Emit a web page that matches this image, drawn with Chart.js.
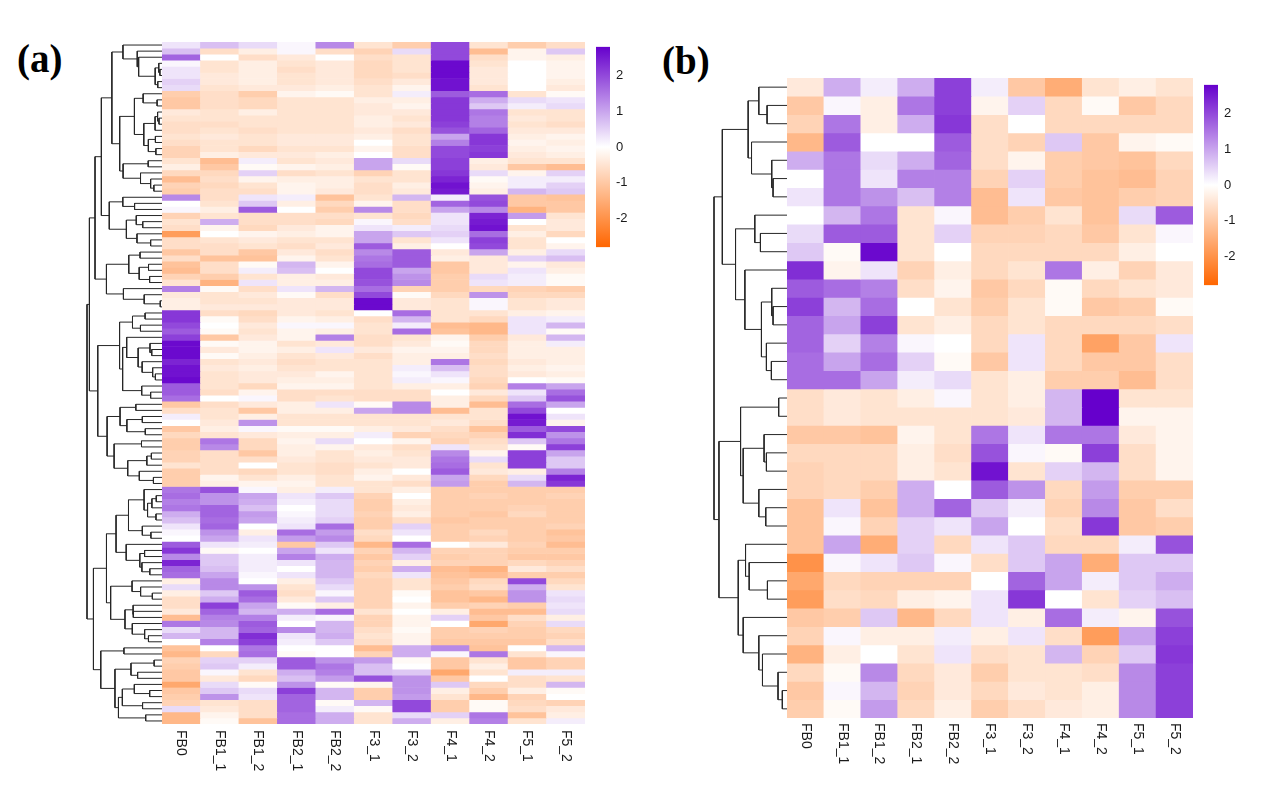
<!DOCTYPE html>
<html>
<head>
<meta charset="utf-8">
<script src="https://cdn.jsdelivr.net/npm/chart.js@4.4.1/dist/chart.umd.min.js"></script>
<style>
  body { margin: 0; background: #fff; width: 1270px; height: 810px; position: relative; overflow: hidden; }
  canvas { position: absolute; }
  .tag { position: absolute; font-family: "Liberation Serif", "Times New Roman", serif; font-weight: bold; font-size: 39px; line-height: 1; color: #000; }
</style>
</head>
<body>
<div class="tag" style="left:17px;top:39px">(a)</div>
<div class="tag" style="left:662px;top:41px">(b)</div>

<canvas id="treeA" width="79" height="686" style="left:84px;top:40px"></canvas>
<canvas id="heatA" width="423" height="752" style="left:162px;top:42px"></canvas>
<canvas id="barA" width="44" height="228" style="left:596px;top:33px"></canvas>

<canvas id="treeB" width="77" height="644" style="left:711px;top:76px"></canvas>
<canvas id="heatB" width="406" height="710" style="left:787px;top:78px"></canvas>
<canvas id="barB" width="44" height="228" style="left:1204px;top:71px"></canvas>

<script>
// column names (same for both panels)
var columns = ["FB0", "FB1_1", "FB1_2", "FB2_1", "FB2_2", "F3_1", "F3_2", "F4_1", "F4_2", "F5_1", "F5_2"];

// colour key
var colorLimit = 2.8;
var colorTicks = [-2, -1, 0, 1, 2];

/* panel (a): row z-scores, top to bottom */
var heatA = [
	[0.3, 0.7, 0.4, 0.1, 1.3, -0.5, -0.9, 2.0, -0.5, -0.9, -0.6],
	[0.7, -0.6, -0.3, 0.1, -0.6, -0.8, 0.4, 2.0, -1.2, -0.2, 0.6],
	[1.7, 0.0, -0.6, -0.4, 0.0, -0.6, -0.5, 2.0, -0.6, -0.2, -0.3],
	[0.1, -0.5, -0.3, -0.5, -0.4, -0.7, -0.5, 2.7, -0.5, 0.0, -0.2],
	[0.3, -0.5, -0.3, -0.6, -0.4, -0.7, -0.5, 2.7, -0.4, 0.0, -0.2],
	[0.3, -0.4, -0.3, -0.5, -0.4, -0.7, -0.6, 2.7, -0.4, 0.0, -0.2],
	[0.5, -0.4, -0.3, -0.5, -0.4, -0.6, -0.4, 2.6, -0.4, 0.0, -0.3],
	[0.4, -0.5, -0.4, -0.4, -0.3, -0.5, -0.2, 2.6, -0.5, 0.0, -0.4],
	[-0.9, -0.6, -0.9, -0.2, -0.1, -0.5, 0.2, 1.8, 1.6, -0.5, -0.1],
	[-1.0, -0.6, -0.7, -0.5, -0.5, -0.3, -0.3, 2.2, 0.9, 0.4, 0.3],
	[-1.0, -0.6, -0.7, -0.5, -0.5, -0.4, -0.2, 2.2, 0.6, 0.2, 0.4],
	[-0.4, -0.5, -0.3, -0.5, -0.5, -0.4, -0.4, 2.2, 1.5, -0.5, -0.5],
	[-0.5, -0.5, -0.5, -0.5, -0.5, -0.3, -0.5, 2.2, 1.4, -0.4, -0.5],
	[-0.6, -0.6, -0.5, -0.5, -0.5, -0.3, -0.4, 2.1, 1.4, -0.5, -0.6],
	[-0.6, -0.5, -0.6, -0.5, -0.5, -0.4, -0.6, 1.9, 1.7, -0.4, -0.4],
	[-0.5, -0.4, -0.5, -0.4, -0.4, -0.3, -0.5, 1.0, 2.2, -0.3, -0.2],
	[-0.6, -0.5, -0.5, -0.4, -0.4, 0.0, -0.5, 1.4, 2.2, -0.2, -0.3],
	[-0.8, -0.5, -0.7, -0.5, -0.5, -0.2, -0.6, 2.0, 2.1, -0.3, -0.2],
	[-0.8, -0.3, -0.4, -0.4, -0.3, 0.0, -0.6, 2.0, 2.2, -0.4, -0.3],
	[-0.5, -1.2, 0.2, -0.5, -0.4, 1.0, 0.4, 2.1, -0.3, -0.5, -0.5],
	[-0.3, -1.0, -0.1, -0.2, -0.3, 1.0, -0.1, 2.1, -0.4, -1.0, -1.2],
	[-0.7, -0.7, 0.5, -0.6, -0.5, -0.8, -0.5, 2.2, 0.4, -0.2, 0.5],
	[-1.2, -0.6, -0.2, -0.3, -0.3, -0.5, -0.5, 2.4, -0.1, 0.2, 0.2],
	[-0.8, -0.7, -0.5, -0.2, -0.3, -0.6, -0.3, 2.6, -0.2, 0.2, 0.5],
	[-0.9, -0.6, -0.6, -0.2, -0.4, -0.6, -0.4, 2.5, -0.3, 0.8, 0.6],
	[1.3, -0.6, 0.3, 0.2, -1.1, -0.5, 0.8, 0.2, 1.9, -1.0, -1.1],
	[0.0, -0.5, 0.6, -0.3, -0.7, -0.2, -0.6, 1.7, 2.0, -1.0, -1.0],
	[0.1, -0.3, 1.8, 0.0, -0.9, 1.3, -0.6, 1.0, 1.3, -1.4, -1.0],
	[-0.8, -0.5, -0.6, -0.6, -0.6, -0.5, -0.7, 0.3, 2.4, 1.1, -0.5],
	[-0.5, 0.9, -0.6, -0.6, -0.7, 0.1, -0.6, 0.3, 2.5, 0.0, -0.4],
	[-0.6, -0.2, -0.7, -0.4, -0.2, 0.3, 0.2, 0.4, 2.6, -0.5, -0.4],
	[-1.8, 0.0, -0.2, -0.3, -0.2, 1.0, 0.6, 0.5, 1.6, -0.3, -0.7],
	[-0.6, -0.5, -0.4, -0.5, -0.5, 1.0, -0.5, 0.3, 2.1, -0.5, 0.0],
	[-0.6, -0.6, -0.5, -0.6, -0.4, 1.8, -0.3, 0.0, 2.0, -0.5, -0.2],
	[-1.0, -0.6, -1.0, -0.4, -0.6, 1.3, 1.8, -0.4, 1.0, -0.3, 0.4],
	[-0.6, -1.1, -1.1, -0.2, -0.5, 1.5, 1.8, -0.3, -0.4, 0.5, 0.7],
	[-1.1, -0.6, -0.1, 0.8, -0.2, 1.6, 1.8, -1.0, -0.4, -0.2, -0.4],
	[-1.2, -0.6, 0.2, 0.7, 0.0, 2.0, 1.0, -1.0, -0.4, 0.3, -0.3],
	[-0.8, -0.9, -0.5, -0.3, -0.4, 2.0, 1.2, -0.9, 0.4, 0.2, -0.1],
	[-0.5, -1.4, 0.3, -0.3, -0.3, 1.9, 1.3, -0.9, 0.3, 0.2, -0.1],
	[1.4, -0.1, -0.6, 0.3, 0.8, 1.6, -0.8, -0.9, -0.7, -0.8, -0.9],
	[-0.4, -0.5, -0.4, -0.1, -0.6, 2.0, -0.1, -0.7, 1.2, -0.7, -0.7],
	[-0.3, -0.5, -0.5, -0.4, -0.4, 2.7, -0.4, -0.5, 0.1, -0.5, -0.4],
	[-0.3, -0.4, -0.4, -0.4, -0.4, 2.7, -0.4, -0.5, 0.1, -0.5, -0.4],
	[2.2, -0.6, -0.7, -0.4, -0.5, 0.0, 1.6, -0.5, -0.5, -0.3, -0.2],
	[2.2, -0.1, -0.6, -0.2, -0.3, -0.6, 0.8, -0.5, -0.7, 0.3, 0.2],
	[2.0, 0.0, -0.4, 0.1, 0.1, -0.5, 0.2, -1.2, -1.3, 0.3, 0.8],
	[1.8, -0.1, -0.5, -0.2, -0.3, -0.5, 1.6, -1.1, -1.3, 0.3, -0.1],
	[2.1, -1.0, -0.4, -0.2, 1.4, -0.6, -0.5, -0.2, -0.9, -0.4, 0.8],
	[2.7, -0.1, -0.2, -0.5, -0.4, -0.6, -0.4, -0.1, -0.7, -0.3, 0.2],
	[2.7, -0.4, -0.2, -0.3, 0.3, -0.4, -0.2, -0.2, -0.7, -0.3, -0.3],
	[2.7, -0.1, -0.3, -0.5, -0.4, -0.6, -0.3, -0.3, -0.6, -0.3, -0.3],
	[2.4, -0.5, -0.4, -0.6, -0.5, -0.5, -0.3, 1.5, -0.7, -0.4, -0.3],
	[2.6, -0.4, -0.3, -0.5, -0.5, -0.5, 0.2, 0.7, -0.6, -0.3, -0.2],
	[2.6, -0.5, -0.4, -0.4, -0.2, -0.5, 0.1, 0.3, -0.6, -0.4, -0.3],
	[2.7, -0.5, -0.4, -0.3, -0.3, -0.5, 0.2, 0.1, -0.7, 0.0, -0.1],
	[1.8, -0.5, -0.7, -0.2, -0.2, -0.5, -0.3, -0.3, -0.8, 1.4, 1.0],
	[1.8, -0.6, -0.2, -0.6, -0.6, -0.6, -0.6, 0.0, -0.4, 0.3, 1.6],
	[1.6, 0.0, 0.1, -0.6, -0.5, -0.6, -0.6, -0.3, -0.7, 0.6, 1.9],
	[-1.0, -0.6, -0.4, -0.3, 0.3, -0.1, 1.3, -0.3, -1.2, 1.6, 1.0],
	[-0.6, -0.5, -1.0, -0.3, -0.3, 1.0, 1.3, -1.2, -0.5, 2.0, 0.0],
	[0.2, -0.5, -0.3, -0.5, -0.5, -0.5, -0.5, -0.5, -0.5, 2.6, 0.3],
	[0.0, -0.4, 1.2, -0.5, -0.5, -0.5, -0.5, -0.4, -0.6, 2.5, -0.2],
	[-1.0, -0.3, 0.1, -0.1, -0.1, -0.3, -0.4, -0.6, -1.1, 1.8, 2.0],
	[-0.7, -0.5, -0.4, -0.3, -0.3, 0.2, -0.8, -0.7, -0.8, 2.3, 1.2],
	[-0.9, 1.5, -0.7, -0.2, 0.4, 0.0, -0.2, -0.8, -0.6, 0.6, 1.5],
	[-0.9, 1.3, -0.7, -0.3, -0.2, -0.4, -0.6, 0.3, -0.5, -0.1, 2.1],
	[-0.8, -0.6, -1.0, -0.3, -0.5, -0.3, -0.5, 1.3, -0.2, 2.1, 1.0],
	[-0.8, -0.6, -0.6, -0.4, -0.5, -0.4, -0.4, 1.5, 0.4, 2.1, 0.6],
	[-0.5, -0.6, 0.0, -0.5, -0.6, -0.5, -0.4, 1.6, -0.5, 2.1, 0.6],
	[-0.9, -0.6, -0.7, -0.5, -0.6, -0.3, 0.0, 1.8, -0.4, -0.3, 1.4],
	[-0.9, -0.2, -0.5, -0.3, -0.5, -0.2, -0.4, 1.0, -0.7, 0.4, 2.4],
	[-0.9, -0.3, -0.2, -0.2, -0.5, -0.5, -0.6, 1.1, -0.9, 0.8, 2.2],
	[1.5, 1.9, 0.1, -0.3, 0.2, -0.5, -0.3, -0.9, -0.9, -0.9, -0.9],
	[1.6, 1.2, 1.0, 0.3, 0.6, -0.8, 0.0, -0.9, -0.8, -0.9, -0.8],
	[1.4, 1.2, 0.9, 0.2, 0.4, -0.9, -0.3, -0.9, -0.9, -0.9, -0.9],
	[1.5, 1.7, 0.7, 0.0, 0.4, -0.9, -0.4, -0.9, -0.9, -0.8, -0.9],
	[0.9, 1.7, 1.1, 0.1, 0.4, -0.8, -0.3, -0.9, -1.0, -0.7, -0.9],
	[0.7, 1.6, 1.0, 0.2, 0.5, -0.9, -0.6, -1.0, -0.9, -0.9, -0.9],
	[0.3, 1.7, 0.0, 0.3, 1.6, -0.9, 0.5, -0.9, -0.9, -0.9, -0.8],
	[0.1, 1.2, -0.3, 1.6, 1.1, -0.6, 0.3, -0.9, -0.7, -0.9, -1.1],
	[0.0, 1.0, 0.3, 1.1, 1.3, -0.7, 0.0, -0.9, -0.8, -0.9, -1.0],
	[1.8, 0.3, 0.2, -1.0, 0.6, -1.3, 1.6, 0.0, -0.4, -0.8, -1.2],
	[2.2, -0.1, 0.0, 1.0, 0.3, -0.8, 0.8, -0.8, -0.8, -0.9, -0.9],
	[1.3, 0.6, 0.2, 1.4, 0.9, -1.0, 0.5, -0.9, -0.8, -1.0, -1.0],
	[2.4, 0.6, 0.2, 0.3, 0.8, -0.8, -0.3, -0.8, -0.8, -0.7, -0.8],
	[1.7, 0.7, 0.2, 0.0, 0.8, -0.9, 0.9, -1.2, -1.4, -0.4, -0.6],
	[1.6, 1.0, 0.1, 0.3, 0.8, -0.7, 0.3, -1.1, -1.2, -0.9, -0.9],
	[-0.3, 1.3, 0.0, -0.3, 0.6, -0.8, -0.5, -1.0, -0.7, 2.0, -0.7],
	[0.4, 1.3, 1.2, -0.5, 0.4, -0.8, -0.5, -0.9, -0.6, 0.9, -0.5],
	[-0.3, 0.6, 1.8, -0.6, 0.1, -0.8, -0.1, -1.1, -1.0, 1.2, 0.3],
	[-0.6, 0.9, 1.6, -0.4, 0.6, -0.8, 0.0, -1.1, -1.3, 1.2, 0.4],
	[-0.6, 2.1, 1.0, -0.1, -0.3, -0.8, -0.2, -0.9, -0.8, -0.9, 0.3],
	[-0.4, 1.7, 0.8, 0.9, 1.6, -0.5, 0.0, -0.3, -1.2, -1.2, 0.4],
	[-1.2, 1.4, 1.4, 0.2, 0.1, -0.8, -0.2, 0.5, -1.0, -0.6, -0.3],
	[1.5, 1.3, 1.8, 0.0, 0.8, -0.8, -0.2, 0.0, -1.6, -0.8, 0.4],
	[0.4, 0.8, 1.7, 1.3, 0.8, -0.6, -0.1, -0.9, -0.8, -0.9, -0.7],
	[0.8, 0.8, 2.3, 0.3, 0.9, -0.5, -0.2, -0.9, -0.9, -0.9, -0.8],
	[0.0, 1.4, 2.1, 0.2, 0.6, -0.6, -0.2, -1.0, -1.0, -1.0, -0.6],
	[-1.1, 0.0, 1.5, 0.0, 0.0, -1.2, 0.9, 1.3, -1.1, 0.0, 0.8],
	[-1.3, -0.7, 1.6, -0.1, 0.0, -0.8, 0.9, 0.1, 1.5, -0.5, 0.1],
	[-0.8, 0.5, 0.5, 1.8, 1.2, 1.1, -0.1, -1.0, -0.5, -1.0, -0.8],
	[-0.9, 0.6, 0.2, 1.8, 1.5, 0.7, 0.0, -1.0, -0.3, -1.0, -0.8],
	[-1.0, 0.1, -0.5, 0.9, 1.4, 0.7, 0.6, -1.6, -0.5, 0.2, 0.2],
	[-1.0, -0.4, -0.7, 0.7, 1.1, 1.9, 1.2, -1.0, 0.0, -0.6, -0.5],
	[-1.6, 0.4, -0.1, 1.2, -0.1, -0.2, 1.2, 0.6, -0.7, -0.6, 0.8],
	[-1.0, 0.6, 0.4, 2.1, 0.8, -0.9, 1.2, -0.3, -0.9, -0.3, -0.1],
	[-0.9, 1.2, 0.3, 1.7, 0.8, -0.9, 1.1, -0.5, -1.3, -0.8, 0.0],
	[-0.8, -0.5, -0.6, 1.7, -0.1, 0.8, 2.0, -0.9, -0.1, -0.7, -0.8],
	[0.4, -0.4, -0.6, 1.7, 0.2, -0.1, 2.0, -0.9, -0.1, -0.6, -0.4],
	[-1.3, -0.2, -0.6, 1.6, 0.9, -0.5, 0.4, 0.5, 1.5, -1.1, -0.3],
	[-1.3, -0.1, -1.1, 1.6, 0.9, -0.5, 0.9, -0.3, 1.4, -0.5, 0.2]
];

/* panel (b): row z-scores, top to bottom */
var heatB = [
	[-0.4, 0.9, 0.2, 0.9, 2.1, 0.2, -1.0, -1.5, -0.5, -0.3, -0.5],
	[-1.0, 0.1, -0.3, 1.5, 2.1, -0.2, 0.5, -0.7, -0.1, -1.0, -0.7],
	[-0.8, 1.5, -0.3, 0.9, 2.2, -0.6, 0.0, -0.7, -0.7, -0.7, -0.7],
	[-1.3, 1.8, 0.0, 0.0, 1.8, -0.6, -0.8, 0.6, -1.0, -0.2, -0.1],
	[0.9, 1.5, 0.4, 0.9, 1.7, -0.6, -0.2, -0.9, -1.0, -1.1, -0.7],
	[0.0, 1.5, 0.3, 1.4, 1.4, -0.8, 0.5, -0.9, -1.1, -1.2, -0.8],
	[0.3, 1.5, 1.2, 0.7, 1.4, -1.2, 0.3, -1.0, -1.1, -0.9, -0.8],
	[0.0, 0.8, 1.5, -0.5, 0.1, -1.2, -0.9, -0.5, -1.1, 0.4, 1.8],
	[0.4, 1.8, 1.8, -0.5, 0.5, -0.8, -0.8, -0.7, -1.0, -0.5, 0.1],
	[0.6, -0.1, 2.7, -0.5, 0.0, -0.7, -0.7, -0.7, -0.7, -0.3, 0.0],
	[2.3, -0.2, 0.3, -0.8, -0.3, -0.7, -0.5, 1.5, -0.3, -0.8, -0.4],
	[1.8, 1.6, 1.4, -0.6, -0.2, -1.0, -0.7, -0.1, -0.7, -0.5, -0.4],
	[2.1, 0.8, 1.6, 0.0, -0.5, -0.9, -0.5, -0.1, -1.0, -0.9, -0.1],
	[1.7, 1.0, 2.1, -0.5, -0.3, -0.7, -0.5, -0.7, -0.7, -0.7, -0.6],
	[1.7, 0.5, 1.4, 0.1, 0.0, -0.7, 0.3, -0.7, -1.7, -1.0, 0.3],
	[1.6, 1.0, 1.6, 0.5, -0.1, -1.0, 0.3, -0.7, -1.0, -1.0, -0.6],
	[1.6, 1.6, 1.0, 0.2, 0.4, -0.5, -0.3, -0.9, -0.9, -1.2, -0.6],
	[-0.6, -0.4, -0.5, -0.3, 0.1, -0.5, -0.3, 0.8, 2.8, -0.5, -0.5],
	[-0.6, -0.4, -0.5, -0.5, -0.5, -0.5, -0.4, 0.8, 2.8, -0.2, -0.2],
	[-1.0, -1.0, -1.1, -0.2, -0.5, 1.5, 0.3, 1.5, 1.5, -0.4, -0.2],
	[-0.7, -0.7, -0.7, -0.3, -0.6, 1.9, 0.1, -0.1, 2.1, -0.6, -0.2],
	[-0.8, -0.7, -0.7, -0.3, -0.5, 2.6, -0.5, 0.5, 0.8, -0.6, -0.2],
	[-0.8, -0.7, -0.9, 0.9, 0.0, 1.8, 1.2, -0.7, 1.1, -0.9, -0.9],
	[-1.1, 0.3, -1.1, 0.9, 1.7, 0.6, 0.2, -0.8, 1.3, -1.0, -0.6],
	[-1.1, 0.1, -0.8, 0.5, 0.3, 1.0, 0.0, -0.6, 2.2, -1.0, -0.9],
	[-1.1, 1.0, -1.5, 0.5, -0.7, 0.3, 0.6, -0.7, -0.7, 0.2, 1.9],
	[-2.0, 0.1, 0.3, 0.6, 0.1, -0.6, 0.6, 1.0, -1.5, 0.6, 0.6],
	[-1.6, -0.7, -0.8, -0.8, -0.8, 0.0, 1.7, 1.0, 0.2, 0.6, 0.9],
	[-1.8, -0.6, -0.7, -0.3, -0.2, 0.3, 2.2, 0.0, -0.5, 0.5, 0.7],
	[-1.0, -0.9, 0.6, -1.3, -0.7, 0.3, -0.3, 1.6, 0.2, -0.2, 1.9],
	[-0.8, 0.1, -0.3, -0.3, 0.2, -0.3, 0.3, -0.6, -1.8, 1.0, 2.1],
	[-1.4, -0.3, 0.0, -0.5, 0.3, -0.6, -0.5, 0.8, -0.8, 0.6, 2.2],
	[-0.7, -0.1, 1.3, -0.7, -0.4, -0.9, -0.5, -0.5, -0.6, 1.3, 2.1],
	[-1.0, 0.1, 0.8, -0.8, -0.4, -0.7, -0.4, -0.5, -0.3, 1.3, 2.1],
	[-0.9, -0.1, 1.1, -0.7, -0.3, -0.9, -0.6, -0.4, -0.3, 1.3, 2.1]
];

/* panel (b) row tree, hclust style: negative = row number, positive = earlier step */
var mergeB = [
	[-2, -3], [-1, 1], [-6, -7], [-5, 3], [-4, 4], [2, 5],
	[-9, -10], [-8, 7], [-13, -14], [-12, 9], [-16, -17], [-15, 11],
	[10, 12], [-11, 13], [8, 14], [6, 15],
	[-18, -19], [-21, -22], [-20, 18], [-24, -25], [-23, 20], [19, 21], [17, 22],
	[-28, -29], [-27, 24], [-26, 25],
	[-34, -35], [-33, 27], [-32, 28], [-31, 29], [-30, 30], [26, 31],
	[23, 32], [16, 33]
];
var heightB = [
	2.73, 3.86, 1.91, 2.09, 4.86, 5.32,
	3.64, 4.41, 1.91, 2.09, 2.14, 2.82,
	3.5, 5.77, 7.05, 8.86,
	1.14, 2.82, 3.14, 2.91, 3.86, 6.0, 6.36,
	2.68, 5.18, 5.68,
	0.64, 1.23, 3.36, 3.86, 6.0, 6.68,
	9.32, 10
];

var fontSans = '"Liberation Sans", Arial, Helvetica, sans-serif';

/* white in the middle, orange for low, purple for high */
var lowColor = [255, 102, 0];
var highColor = [102, 0, 204];
function colorFor(v) {
	var t = Math.max(-1, Math.min(1, v / colorLimit));
	var end = t < 0 ? lowColor : highColor;
	var a = Math.abs(t);
	var c = end.map(function(e) { return Math.round(255 + (e - 255) * a); });
	return "rgb(" + c[0] + "," + c[1] + "," + c[2] + ")";
}

/* row tree for panel (a): complete linkage, only neighbouring rows may join */
function clusterRows(rows) {
	var dist = rows.map(function(a) {
		return rows.map(function(b) {
			var s = 0;
			for (var i = 0; i < a.length; i++) s += (a[i] - b[i]) * (a[i] - b[i]);
			return Math.sqrt(s);
		});
	});
	var groups = rows.map(function(r, i) { return { id: -(i + 1), rows: [i], h: 0 }; });
	var merge = [], height = [];
	function link(g, k) {
		var m = 0;
		g.rows.forEach(function(i) { k.rows.forEach(function(j) { m = Math.max(m, dist[i][j]); }); });
		return m;
	}
	while (groups.length > 1) {
		var best = 0, bestD = Infinity;
		for (var k = 0; k < groups.length - 1; k++) {
			var d = link(groups[k], groups[k + 1]);
			if (d < bestD) { bestD = d; best = k; }
		}
		var a = groups[best], b = groups[best + 1];
		var h = Math.max(bestD, a.h, b.h);
		merge.push([a.id, b.id]);
		height.push(h);
		groups.splice(best, 2, { id: merge.length, rows: a.rows.concat(b.rows), h: h });
	}
	return { merge: merge, height: height };
}

/* one bracket per merge step, in (height, row) units */
function treeSegments(merge, height) {
	var steps = [];
	function node(id) {
		return id < 0 ? { y: -id - 0.5, h: 0 } : steps[id - 1];
	}
	return merge.map(function(m, i) {
		var A = node(m[0]), B = node(m[1]), h = height[i];
		steps.push({ y: (A.y + B.y) / 2, h: h });
		return [{ x: A.h, y: A.y }, { x: h, y: A.y }, { x: h, y: B.y }, { x: B.h, y: B.y }];
	});
}

function treeChart(id, merge, height, nRows, pad) {
	var datasets = treeSegments(merge, height).map(function(pts) {
		return {
			data: pts,
			showLine: true,
			borderColor: "#262626",
			borderWidth: 1,
			pointRadius: 0,
			tension: 0,
			clip: false
		};
	});
	return new Chart(document.getElementById(id), {
		type: "scatter",
		data: { datasets: datasets },
		options: {
			responsive: false,
			animation: false,
			events: [],
			layout: { padding: pad },
			plugins: { legend: { display: false }, tooltip: { enabled: false } },
			scales: {
				x: { display: false, reverse: true, min: 0, max: Math.max.apply(null, height) },
				y: { display: false, reverse: true, min: 0, max: nRows }
			}
		}
	});
}

/* column names below the heatmap, reading downwards */
var columnLabels = {
	id: "columnLabels",
	afterDraw: function(chart, args, opts) {
		var ctx = chart.ctx, area = chart.chartArea, x = chart.scales.x;
		ctx.save();
		ctx.font = "14px " + fontSans;
		ctx.fillStyle = "#1a1a1a";
		ctx.textAlign = "left";
		ctx.textBaseline = "middle";
		chart.data.labels.forEach(function(label, i) {
			ctx.save();
			ctx.translate(x.getPixelForValue(i), area.bottom + opts.gap);
			ctx.rotate(Math.PI / 2);
			ctx.fillText(label, 0, 0);
			ctx.restore();
		});
		ctx.restore();
	}
};

function heatChart(id, rows, bottomPad, gap) {
	var datasets = rows.map(function(row, r) {
		return {
			label: "row " + (r + 1),
			data: row.map(function() { return 1; }),
			backgroundColor: row.map(colorFor),
			borderWidth: 0,
			barPercentage: 1,
			categoryPercentage: 1,
			stack: "cells"
		};
	});
	return new Chart(document.getElementById(id), {
		type: "bar",
		data: { labels: columns, datasets: datasets },
		options: {
			responsive: false,
			animation: false,
			events: [],
			layout: { padding: { bottom: bottomPad } },
			plugins: {
				legend: { display: false },
				tooltip: { enabled: false },
				columnLabels: { gap: gap }
			},
			scales: {
				x: { display: false, stacked: true },
				y: { display: false, stacked: true, reverse: true, min: 0, max: rows.length }
			}
		},
		plugins: [columnLabels]
	});
}

function keyGradient(chart) {
	var area = chart.chartArea;
	if (!area) return null;
	var y = chart.scales.y;
	var g = chart.ctx.createLinearGradient(0, y.getPixelForValue(-colorLimit), 0, y.getPixelForValue(colorLimit));
	for (var i = 0; i <= 20; i++) {
		g.addColorStop(i / 20, colorFor(-colorLimit + (2 * colorLimit * i) / 20));
	}
	return g;
}

function colorKey(id) {
	return new Chart(document.getElementById(id), {
		type: "bar",
		data: {
			labels: ["key"],
			datasets: [{
				data: [[-colorLimit, colorLimit]],
				backgroundColor: function(c) { return keyGradient(c.chart); },
				borderWidth: 0,
				barPercentage: 1,
				categoryPercentage: 1
			}]
		},
		options: {
			responsive: false,
			animation: false,
			events: [],
			layout: { padding: { top: 10, bottom: 10 } },
			plugins: { legend: { display: false }, tooltip: { enabled: false } },
			scales: {
				x: { display: false },
				y: {
					position: "right",
					min: -colorLimit,
					max: colorLimit,
					grid: { display: false, drawTicks: false },
					border: { display: false },
					ticks: { padding: 6, color: "#1a1a1a", font: { family: fontSans, size: 13 } },
					afterBuildTicks: function(s) {
						s.ticks = colorTicks.map(function(v) { return { value: v }; });
					},
					afterFit: function(s) { s.width = 30; }
				}
			}
		}
	});
}

var treeA = clusterRows(heatA);
treeChart("treeA", treeA.merge, treeA.height, heatA.length, { left: 3, right: 1, top: 2, bottom: 2 });
heatChart("heatA", heatA, 70, 6);
colorKey("barA");

treeChart("treeB", mergeB, heightB, heatB.length, { left: 3, right: 1, top: 2, bottom: 2 });
heatChart("heatB", heatB, 70, 5);
colorKey("barB");
</script>
</body>
</html>
